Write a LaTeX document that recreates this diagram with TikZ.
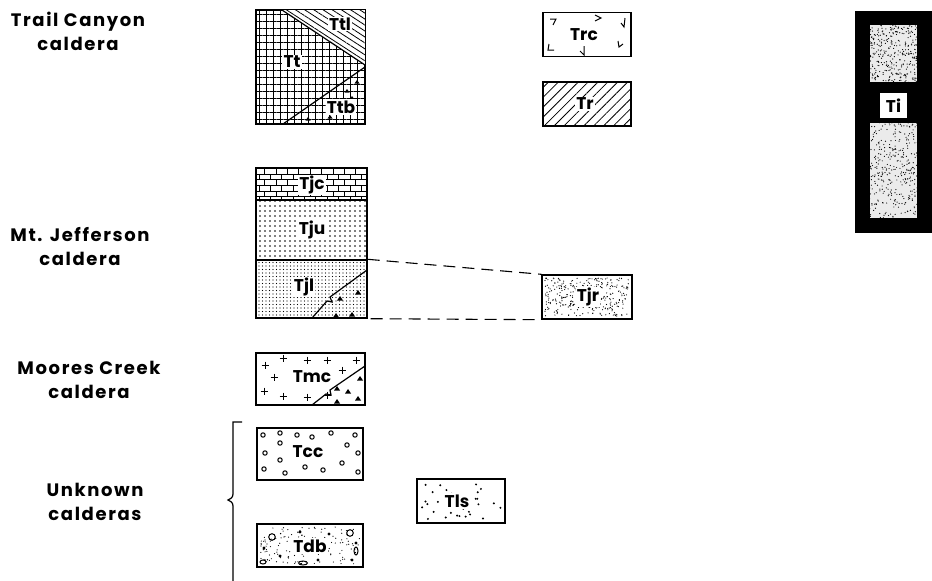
\documentclass[tikz,border=0pt]{standalone}
\usepackage{fontspec}
\newfontfamily\mapfont{Poppins}[LetterSpace=9.0]
\newfontfamily\unitfont{Poppins}
\usetikzlibrary{arrows.meta,positioning,patterns,patterns.meta}
\tikzset{
  unit/.style={draw, line width=1.4pt, inner sep=0pt, minimum width=88pt, minimum height=44pt},
  col/.style={unit, minimum width=109pt},
  lbl/.style={fill=white, inner sep=1.2pt, font=\unitfont\bfseries\fontsize{17}{17}\selectfont},
  calname/.style={font=\mapfont\bfseries\fontsize{18}{24}\selectfont, align=center},
  contact/.style={line width=1.2pt},
  corr/.style={line width=1.1pt, dash pattern=on 12pt off 7pt},
  chev/.style={line width=1pt, line join=miter},
}

\begin{document}
\begin{tikzpicture}[x=1pt, y=-1pt]
\useasboundingbox (0,0) rectangle (932,581);

% Caldera names down the left side.
\node[calname] (trail) at (78,31) {Trail Canyon\\caldera};
\node[calname] (jeff) at (80,247) {Mt. Jefferson\\caldera};
\node[calname] (moores) at (89,380) {Moores Creek\\caldera};
\node[calname] (unknown) at (95,502) {Unknown\\calderas};

% Trail Canyon column: Tt grid, Ttl wedge on top, Ttb wedge below.
\node[col, minimum height=114pt, pattern={Hatch[distance=7pt, line width=0.7pt]}] (tt) at (310.5,67) {};
\fill[white] (282,10) -- (365,10) -- (365,65) -- cycle;
\fill[pattern={Lines[angle=-33, distance=5pt, line width=0.8pt]}] (282,10) -- (365,10) -- (365,65) -- cycle;
\draw[contact] (282,10) -- (365,65);
\draw[contact] (283,124) -- (365,67);
\foreach \x/\y in {357/80, 347/89, 308/117, 330/115, 352/96}
  \fill (\x,\y) -- ++(-2.5,3.5) -- ++(5,0) -- cycle;
\draw[line width=1.4pt] (tt.north west) rectangle (tt.south east);
\node[lbl] (ttl-l) at (340,24) {Ttl};
\node[lbl] (tt-l) at (292,62) {Tt};
\node[lbl] (ttb-l) at (341,107) {Ttb};

% Trc and Tr.
\node[unit] (trc) at (587,34.5) {};
\foreach \x/\y/\ax/\ay/\bx/\by in {556/19/-6/0/-3/6, 601/18/-6/-3/-6/3, 624/27/-3/-4/1/-9,
  548/50/1/-6/6/0, 584/55/-4/-4/0/-9, 619/47/-1/-6/4/-3}
  \draw[chev] (\x+\ax,\y+\ay) -- (\x,\y) -- (\x+\bx,\y+\by);
\node[lbl, fill=none] (trc-l) at (584,35) {Trc};
\node[unit, pattern={Lines[angle=45, distance=7pt, line width=0.8pt]}] (tr) at (587,104) {};
\node[lbl] (tr-l) at (585,104) {Tr};

% Ti, dark band with two grey speckled blocks.
\fill[black] (855,11) rectangle (932,233);
\foreach \yt/\yb in {25/82, 123/218} {
  \fill[black!8] (870,\yt) rectangle (917,\yb);
  \pgfmathsetseed{\yt}
  \foreach \i in {1,...,380} {
    \pgfmathsetmacro{\px}{867+53*rnd}
    \pgfmathsetmacro{\py}{\yt-3+(\yb-\yt+6)*rnd}
    \fill[black] (\px,\py) circle (0.6);
  }
}
\node[lbl, minimum width=27pt, minimum height=25pt] (ti) at (893.5,105.5) {Ti};

% Mt. Jefferson column.
\node[col, minimum width=111pt, minimum height=32pt, pattern=bricks] (tjc) at (311.5,184) {};
\node[col, minimum width=111pt, minimum height=60pt, pattern={Dots[distance=5pt, radius=0.9pt]}] (tju) at (311.5,230) {};
\node[col, minimum width=111pt, minimum height=58pt, pattern={Dots[distance=3.5pt, radius=0.55pt]}] (tjl) at (311.5,289) {};
\draw[contact] (312,318) -- (327,301) -- (332,302) -- (330,297) -- (367,270);
\foreach \x/\y in {340/296, 358/290, 336/313, 352/312}
  \fill (\x,\y) -- ++(-3,4.5) -- ++(6,0) -- cycle;
\node[lbl] (tjc-l) at (312,185) {Tjc};
\node[lbl] (tju-l) at (312,230) {Tju};
\node[lbl] (tjl-l) at (304,287) {Tjl};

% Tjr, correlated with Tjl.
\node[unit, minimum width=90pt] (tjr) at (587,297) {};
\pgfmathsetseed{11}
\foreach \i in {1,...,320} {
  \pgfmathsetmacro{\px}{545+84*rnd}
  \pgfmathsetmacro{\py}{278+38*rnd}
  \fill (\px,\py) circle (0.6);
}
\node[lbl] (tjr-l) at (588,297) {Tjr};
\draw[corr] (tjl.north east) -- (tjr.north west);
\draw[corr] ([xshift=3pt]tjl.south east) -- (tjr.south west);

% Moores Creek.
\node[col, minimum height=52pt] (tmc) at (310.5,379) {};
\foreach \x/\y in {265/365, 283/358, 307/360, 327/360, 356/360, 274/377, 342/370,
  264/391, 283/396, 307/397, 327/395}
  \draw[line width=1pt] (\x-3.5,\y) -- (\x+3.5,\y) (\x,\y-3.5) -- (\x,\y+3.5);
\draw[contact] (312,405) -- (326,394) -- (331,395) -- (330,390) -- (365,366);
\foreach \x/\y in {337/386, 348/389, 360/376, 337/399, 358/396}
  \fill (\x,\y) -- ++(-3,4.5) -- ++(6,0) -- cycle;
\node[lbl] (tmc-l) at (312,377) {Tmc};

% Unknown calderas.
\draw[line width=1.2pt] (242,422) -- (233,422) -- (233,494)
  .. controls (233,498) and (230,499) .. (228,500)
  .. controls (230,501) and (233,502) .. (233,506) -- (233,581);
\node[unit, minimum width=106pt, minimum height=52pt] (tcc) at (310,454) {};
\foreach \x/\y in {263/435, 280/433, 297/435, 312/437, 331/433, 355/435, 265/453, 280/443,
  347/445, 358/453, 280/460, 342/463, 264/469, 285/473, 305/467, 323/470, 358/472}
  \draw[line width=1pt] (\x,\y) circle (2.2);
\node[lbl] (tcc-l) at (308,452) {Tcc};

\node[unit, minimum width=106pt, minimum height=43pt] (tdb) at (310,545.5) {};
\pgfmathsetseed{23}
\foreach \i in {1,...,150} {
  \pgfmathsetmacro{\px}{260+100*rnd}
  \pgfmathsetmacro{\py}{527+37*rnd}
  \fill (\px,\py) circle (0.6);
}
\foreach \x/\y in {264/548, 280/556, 300/532, 329/534, 356/543, 352/560, 318/560}
  \fill (\x,\y) circle (1.6);
\draw[line width=1pt] (272,537) circle (3.3);
\draw[line width=1pt] (350,533) circle (3.3);
\draw[line width=1pt] (303,563) ellipse (4.5 and 2);
\draw[line width=1pt] (356,551) ellipse (2 and 4);
\draw[line width=1pt] (263,562) ellipse (3 and 2);
\node[lbl] (tdb-l) at (310,546) {Tdb};

\node[unit] (tls) at (461,501) {};
\pgfmathsetseed{5}
\foreach \i in {1,...,34} {
  \pgfmathsetmacro{\px}{421+80*rnd}
  \pgfmathsetmacro{\py}{483+36*rnd}
  \fill (\px,\py) circle (1.1);
}
\node[lbl] (tls-l) at (457,501) {Tls};

\end{tikzpicture}
\end{document}
